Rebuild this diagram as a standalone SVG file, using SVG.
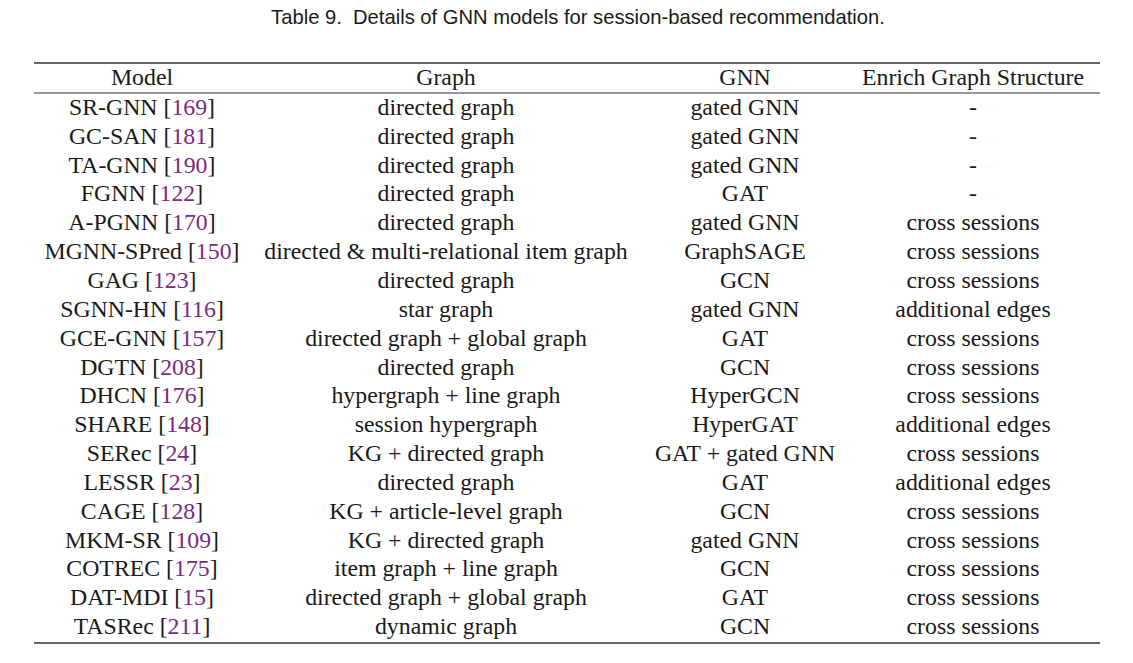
<svg xmlns="http://www.w3.org/2000/svg" width="1133" height="663" viewBox="0 0 1133 663">
<style>
text{font-family:"Liberation Serif","DejaVu Serif",serif;font-size:23.8px;fill:#1a1a1a;text-anchor:middle}
.t{font-family:"Liberation Sans","DejaVu Sans",sans-serif;font-size:20.2px;white-space:pre}
.c{fill:#7a2a82}
.r{stroke:#333;fill:none}
</style>
<rect width="1133" height="663" fill="#fff"/>
<text class="t" x="578" y="23.5" xml:space="preserve">Table 9.  Details of GNN models for session-based recommendation.</text>
<g id="rules">
<line class="r" x1="34" y1="63" x2="1100" y2="63" stroke-width="1.5"/>
<line class="r" x1="34" y1="93" x2="1100" y2="93" stroke-width="1"/>
<line class="r" x1="34" y1="643" x2="1100" y2="643" stroke-width="1.5"/>
</g>
<g id="header" transform="translate(0,1)">
<text x="142" y="84">Model</text>
<text x="446" y="84">Graph</text>
<text x="745" y="84">GNN</text>
<text x="973" y="84">Enrich Graph Structure</text>
</g>
<g id="body" transform="translate(0,1)">
<text x="142" y="114">SR-GNN [<tspan class="c">169</tspan>]</text>
<text x="446" y="114">directed graph</text><text x="745" y="114">gated GNN</text><text x="973" y="114">-</text>
<text x="142" y="143">GC-SAN [<tspan class="c">181</tspan>]</text>
<text x="446" y="143">directed graph</text><text x="745" y="143">gated GNN</text><text x="973" y="143">-</text>
<text x="142" y="172">TA-GNN [<tspan class="c">190</tspan>]</text>
<text x="446" y="172">directed graph</text><text x="745" y="172">gated GNN</text><text x="973" y="172">-</text>
<text x="142" y="200">FGNN [<tspan class="c">122</tspan>]</text>
<text x="446" y="200">directed graph</text><text x="745" y="200">GAT</text><text x="973" y="200">-</text>
<text x="142" y="229">A-PGNN [<tspan class="c">170</tspan>]</text>
<text x="446" y="229">directed graph</text><text x="745" y="229">gated GNN</text><text x="973" y="229">cross sessions</text>
<text x="142" y="258">MGNN-SPred [<tspan class="c">150</tspan>]</text>
<text x="446" y="258">directed &amp; multi-relational item graph</text><text x="745" y="258">GraphSAGE</text><text x="973" y="258">cross sessions</text>
<text x="142" y="287">GAG [<tspan class="c">123</tspan>]</text>
<text x="446" y="287">directed graph</text><text x="745" y="287">GCN</text><text x="973" y="287">cross sessions</text>
<text x="142" y="316">SGNN-HN [<tspan class="c">116</tspan>]</text>
<text x="446" y="316">star graph</text><text x="745" y="316">gated GNN</text><text x="973" y="316">additional edges</text>
<text x="142" y="345">GCE-GNN [<tspan class="c">157</tspan>]</text>
<text x="446" y="345">directed graph + global graph</text><text x="745" y="345">GAT</text><text x="973" y="345">cross sessions</text>
<text x="142" y="374">DGTN [<tspan class="c">208</tspan>]</text>
<text x="446" y="374">directed graph</text><text x="745" y="374">GCN</text><text x="973" y="374">cross sessions</text>
<text x="142" y="402">DHCN [<tspan class="c">176</tspan>]</text>
<text x="446" y="402">hypergraph + line graph</text><text x="745" y="402">HyperGCN</text><text x="973" y="402">cross sessions</text>
<text x="142" y="431">SHARE [<tspan class="c">148</tspan>]</text>
<text x="446" y="431">session hypergraph</text><text x="745" y="431">HyperGAT</text><text x="973" y="431">additional edges</text>
<text x="142" y="460">SERec [<tspan class="c">24</tspan>]</text>
<text x="446" y="460">KG + directed graph</text><text x="745" y="460">GAT + gated GNN</text><text x="973" y="460">cross sessions</text>
<text x="142" y="489">LESSR [<tspan class="c">23</tspan>]</text>
<text x="446" y="489">directed graph</text><text x="745" y="489">GAT</text><text x="973" y="489">additional edges</text>
<text x="142" y="518">CAGE [<tspan class="c">128</tspan>]</text>
<text x="446" y="518">KG + article-level graph</text><text x="745" y="518">GCN</text><text x="973" y="518">cross sessions</text>
<text x="142" y="547">MKM-SR [<tspan class="c">109</tspan>]</text>
<text x="446" y="547">KG + directed graph</text><text x="745" y="547">gated GNN</text><text x="973" y="547">cross sessions</text>
<text x="142" y="575">COTREC [<tspan class="c">175</tspan>]</text>
<text x="446" y="575">item graph + line graph</text><text x="745" y="575">GCN</text><text x="973" y="575">cross sessions</text>
<text x="142" y="604">DAT-MDI [<tspan class="c">15</tspan>]</text>
<text x="446" y="604">directed graph + global graph</text><text x="745" y="604">GAT</text><text x="973" y="604">cross sessions</text>
<text x="142" y="633">TASRec [<tspan class="c">211</tspan>]</text>
<text x="446" y="633">dynamic graph</text><text x="745" y="633">GCN</text><text x="973" y="633">cross sessions</text>
</g>
</svg>
